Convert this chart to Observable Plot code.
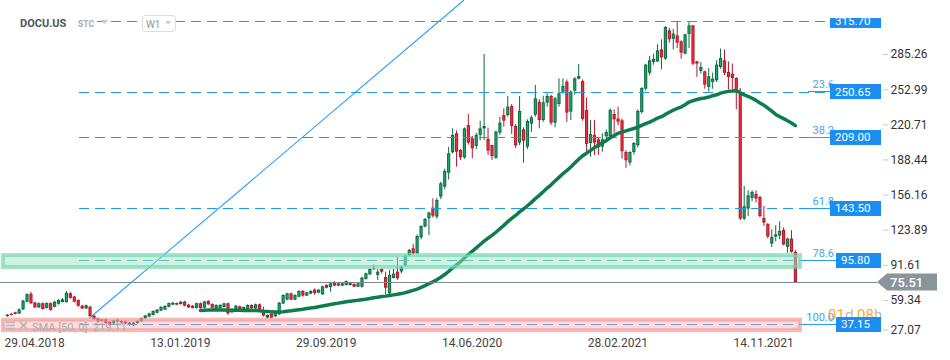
<!DOCTYPE html>
<html><head><meta charset="utf-8">
<script src="https://cdn.jsdelivr.net/npm/d3@7"></script>
<script src="https://cdn.jsdelivr.net/npm/@observablehq/plot@0.6"></script>
<style>
body{margin:0;background:#fff;font-family:Roboto,"Noto Sans",sans-serif;}
#chart{position:relative;width:950px;height:360px;overflow:hidden;background:#fff}
</style></head><body><div id="chart"></div>
<script>
// ---- data (weekly candles, DOCU.US, W1) ----
const firstWeek = "2018-05-04";
const open = [44.5,46.5,48.0,46.8,50.7,57.7,65.0,57.0,52.5,56.3, 52.0,56.3,53.0,55.8,57.5,57.4,65.5,62.5,59.3,54.0,
 51.5,53.0,45.0,42.5,40.0,41.5,39.0,38.0,39.5,40.0, 39.5,38.5,36.0,38.0,39.5,42.5,44.0,45.5,47.5,49.5,
 50.5,53.0,55.0,56.5,55.5,57.8,55.0,54.0,52.0,56.3, 52.2,58.4,55.6,51.6,51.8,52.8,56.2,48.0,51.0,53.5,
 51.0,51.0,54.7,51.6,55.3,48.0,43.0,46.7,44.3,46.1, 56.0,59.6,65.4,59.6,62.3,67.6,63.3,65.1,68.8,66.0,
 64.5,73.1,71.2,75.5,74.6,72.5,73.1,73.1,74.0,71.5, 71.5,78.6,82.9,88.4,82.3,87.8,80.4,65.4,79.5,85.3,
 85.5,91.0,100.5,106.8,102.2,116.9,126.7,134.4,144.2,135.9, 154.3,163.5,176.3,195.0,212.5,197.2,190.4,220.1,207.9,200.8,
 211.0,217.0,207.3,201.7,190.0,213.1,229.3,229.3,237.6,219.2, 203.9,216.1,200.2,221.4,229.6,241.6,224.7,240.7,246.8,222.3,
 239.4,250.8,259.9,232.4,251.7,262.7,260.6,233.9,203.6,211.0, 207.0,200.2,209.7,210.0,230.2,226.0,224.4,195.3,185.6,195.3,
 201.5,232.1,253.5,268.2,278.0,278.6,289.6,281.1,307.1,299.3, 302.5,297.0,285.7,303.8,311.7,278.6,269.8,269.5,255.1,259.7,
 261.2,273.4,279.6,268.8,267.3,263.3,249.6,134.1,143.3,153.1, 156.7,154.0,134.7,129.2,111.1,117.5,118.5,123.7,108.1,115.7,
 103.5];
const high = [46.5,47.5,48.5,51.5,59.5,65.4,66.9,57.5,57.0,57.0, 57.0,57.0,58.5,60.0,61.0,67.5,66.5,63.0,60.0,55.0,
 55.0,54.0,45.5,43.0,42.0,42.0,40.0,41.0,42.0,41.0, 40.5,39.0,39.0,40.5,43.0,45.5,47.5,49.8,51.0,53.5,
 54.5,57.0,57.5,57.0,58.5,58.5,55.5,54.5,56.8,57.0, 58.7,59.0,56.3,55.3,55.5,56.8,57.0,51.5,54.8,54.0,
 53.3,55.3,55.3,56.0,56.0,53.2,46.0,47.2,48.6,57.5, 64.5,66.0,66.0,64.5,68.2,68.5,67.0,68.2,70.0,69.4,
 72.4,73.7,75.2,76.7,75.2,75.2,77.3,76.1,74.6,75.2, 80.7,84.5,88.4,92.0,87.8,88.4,85.3,86.9,87.8,99.1,
 91.5,101.0,106.2,111.0,119.5,128.0,134.5,140.5,152.7,153.0, 168.0,180.0,200.0,217.0,215.0,198.0,218.0,230.2,210.0,213.0,
 224.0,285.4,217.7,202.0,215.0,227.8,235.5,246.8,239.4,221.0, 246.8,218.0,225.3,229.0,256.9,244.0,247.0,249.2,248.0,246.0,
 263.0,263.0,262.0,252.0,264.0,276.2,262.0,245.5,224.7,224.7, 209.0,212.5,216.0,235.5,234.5,237.0,226.0,197.0,196.0,204.5,
 234.6,255.0,276.5,283.5,285.7,294.3,298.9,311.1,309.3,308.6, 314.8,298.0,304.0,315.4,312.0,279.0,278.0,270.0,272.5,268.2,
 279.6,290.3,289.4,278.6,276.5,264.0,254.1,164.1,160.1,160.1, 160.1,155.0,145.7,130.0,124.3,128.0,131.6,126.0,116.5,123.4,
 105.0];
const low = [43.8,45.0,46.0,46.5,50.0,57.0,55.5,52.0,52.0,50.5, 51.5,49.5,52.5,55.0,57.0,57.0,60.5,57.0,53.0,51.0,
 51.0,44.0,41.0,38.5,39.0,37.5,35.5,37.0,38.5,37.5, 37.0,35.5,35.3,37.5,39.0,42.0,43.5,45.0,47.0,49.0,
 50.0,52.5,54.5,54.5,55.0,53.5,52.0,51.5,51.5,51.3, 51.5,54.8,51.5,51.0,51.3,52.2,45.5,47.2,50.5,50.5,
 50.5,50.5,51.0,51.0,50.5,44.0,42.5,42.5,43.5,45.5, 55.5,59.0,59.0,59.0,61.8,62.3,62.8,64.5,63.9,65.5,
 64.0,70.0,66.9,72.0,72.0,72.0,72.5,72.5,71.0,71.0, 70.6,78.0,82.3,87.0,77.7,83.5,64.5,64.5,79.2,77.7,
 83.8,90.0,99.5,101.0,101.5,115.0,126.0,119.0,135.0,134.0, 152.0,161.0,170.0,194.0,181.9,188.0,189.0,202.0,189.5,198.0,
 206.0,206.3,192.6,188.0,189.0,211.0,218.6,227.8,211.9,199.0, 201.7,185.5,198.0,213.7,227.8,217.0,223.0,237.0,220.1,218.0,
 237.0,249.0,223.0,224.7,248.0,262.0,224.0,194.1,191.0,192.6, 192.6,195.6,207.0,207.0,213.0,220.0,189.2,180.7,183.0,192.9,
 199.5,230.5,252.0,266.0,275.6,278.0,271.3,280.0,295.8,289.6, 290.9,281.1,285.0,290.9,275.0,264.3,267.3,253.5,250.8,253.5,
 259.7,271.9,265.8,252.9,252.9,234.6,132.6,132.6,136.5,150.0, 148.8,135.0,127.3,116.0,108.0,113.2,115.1,109.5,102.8,102.8,
 75.2];
const close = [45.8,45.5,46.5,50.7,58.7,64.7,56.3,52.5,56.3,51.0, 56.5,50.1,57.7,59.3,59.8,65.8,61.2,57.7,54.0,51.5,
 54.5,44.5,41.8,39.4,41.5,38.0,36.5,40.5,41.0,38.5, 38.0,36.3,38.5,40.0,42.5,45.0,47.0,49.2,50.5,53.0,
 53.8,56.5,56.8,55.0,57.7,54.0,52.5,52.0,56.3,51.8, 57.8,55.3,52.2,54.7,54.7,56.2,47.0,51.0,54.1,51.0,
 52.8,54.7,51.6,55.3,51.0,44.9,45.5,43.0,48.0,56.8, 63.9,65.4,59.6,63.9,67.6,63.3,66.3,67.6,65.7,68.8,
 71.8,70.6,74.6,72.5,72.5,74.6,76.7,75.5,71.5,74.6, 79.8,83.8,87.8,87.5,85.3,85.3,70.6,82.3,83.5,79.2,
 89.5,100.2,105.3,102.2,118.1,127.3,133.8,139.6,136.8,151.2, 166.5,177.9,194.1,211.0,195.6,190.4,217.0,203.9,198.7,211.0,
 217.0,219.2,196.6,191.6,214.0,222.3,224.1,237.0,219.2,201.4, 233.0,205.7,223.8,227.2,244.6,224.7,241.0,246.8,222.3,244.6,
 249.2,256.0,231.5,250.8,263.0,265.1,225.6,202.7,211.9,204.0, 199.6,207.0,213.7,234.0,225.3,223.2,196.0,187.7,195.3,203.6,
 233.0,254.1,275.6,279.6,281.0,288.7,282.3,310.2,298.9,304.1, 295.8,286.6,303.4,311.7,276.5,276.5,273.4,257.2,264.9,262.7,
 275.6,281.7,268.0,264.3,263.3,249.6,134.1,145.4,155.5,158.6, 152.5,136.5,130.4,117.5,117.2,119.6,122.8,110.2,115.7,103.5,
 75.51];

const xTickDates = ["2018-04-29","2019-01-13","2019-09-29","2020-06-14","2021-02-28","2021-11-14"];
const yTicks = [27.07,59.34,91.61,123.89,156.16,188.44,220.71,252.99,285.26];
const fibLevels = [315.70,250.65,209.00,143.50,95.80,37.15];
const fibPct = ["","23.6","38.2","61.8","78.6","100.0"];
const fibStart = "2018-09-09";
const lastPrice = 75.51;
const smaLength = 50;
const smaLegend = "SMA [50, 0]  219.11";
const zoneLo = [89.6, 31.5];
const zoneHi = [100.6, 41.2];
const zoneFrom = "2018-04-27", zoneTo = "2022-03-13";
const trendDates = ["2018-09-27","2020-07-22T10:00"];
const trendPrices = [43.2, 335.0];
const symbol = "DOCU.US", market = "STC", interval = "W1";
const countdown = [["01",true],["d ",false],["08",true],["h",false]];

// ---- build ----
const DAY = 864e5;
const t0 = Date.UTC(2018,3,29);
const pxPerDay = 729/1295;
const atPx = px => new Date(t0 + (px-4)/pxPerDay*DAY);   // layout helper for the time scale
const w0 = new Date(firstWeek).getTime();
const candles = open.map((o,i)=>({date:new Date(w0 + i*7*DAY), open:o, high:high[i], low:low[i], close:close[i]}));
const ups = candles.filter(d=>d.close>=d.open), dns = candles.filter(d=>d.close<d.open);
const bigBody = d => Math.abs(d.close-d.open) > 2.6;
const bodyTop = d => Math.max(d.open,d.close), bodyBot = d => Math.min(d.open,d.close);
const zones = zoneLo.map((lo,i)=>({lo, hi:zoneHi[i], x1:new Date(zoneFrom), x2:new Date(zoneTo)}));
const trend = trendDates.map((d,i)=>({date:new Date(d), price:trendPrices[i]}));

const GD="#0d6a42", GL="#22a36b", RD="#b3182b", RL="#e8303f";
const plot = Plot.plot({
  width:950, height:360, marginLeft:0, marginRight:148, marginTop:0, marginBottom:24,
  style:{fontFamily:"Roboto, sans-serif", fontSize:"12px", background:"transparent", overflow:"visible"},
  x:{type:"utc", domain:[atPx(0), atPx(802)], label:null},
  y:{domain:[26.18, 335.0], label:null},
  marks:[
    Plot.ruleX(ups,{x:"date",y1:"low",y2:"high",stroke:GD,strokeWidth:1}),
    Plot.ruleX(dns,{x:"date",y1:"low",y2:"high",stroke:RD,strokeWidth:1}),
    Plot.ruleX(ups,{x:"date",y1:bodyTop,y2:bodyBot,stroke:GD,strokeWidth:3.2}),
    Plot.ruleX(dns,{x:"date",y1:bodyTop,y2:bodyBot,stroke:RD,strokeWidth:3.2}),
    Plot.ruleX(ups.filter(bigBody),{x:"date",y1:bodyTop,y2:bodyBot,insetTop:1,insetBottom:1,stroke:GL,strokeWidth:1.3}),
    Plot.ruleX(dns.filter(bigBody),{x:"date",y1:bodyTop,y2:bodyBot,insetTop:1,insetBottom:1,stroke:RL,strokeWidth:1.3}),
    Plot.ruleY(fibLevels,{y:d=>d,x1:new Date(fibStart),x2:atPx(826),stroke:"#1e9be3",strokeWidth:1.1,
      strokeDasharray:"10,6",shapeRendering:"crispEdges"}),
    Plot.lineY(candles, Plot.windowY({k:smaLength, anchor:"end", strict:true, reduce:"mean"},
      {x:"date", y:"close", stroke:"#0f7c4b", strokeWidth:3.5})),
    Plot.line(trend,{x:"date",y:"price",stroke:"#2d9ff0",strokeWidth:1.1}),
    Plot.ruleY([lastPrice],{x1:atPx(0),x2:atPx(877),stroke:"#7d878f",strokeWidth:1.3,shapeRendering:"crispEdges"}),
    Plot.rect([zones[0]],{x1:"x1",x2:"x2",y1:"lo",y2:"hi",fill:"#9fe5c6",fillOpacity:0.5,stroke:"#6fd6aa",strokeOpacity:0.65,strokeWidth:4}),
    Plot.rect([zones[1]],{x1:"x1",x2:"x2",y1:"lo",y2:"hi",fill:"#f7a8a8",fillOpacity:0.4,stroke:"#f08c8c",strokeOpacity:0.6,strokeWidth:4}),
    Plot.axisX({ticks:xTickDates.map(d=>new Date(d)), tickFormat:d3.utcFormat("%d.%m.%Y"), textAnchor:"start",
      tickSize:0, tickPadding:2, fontSize:12, fill:"#444", label:null}),
    Plot.axisY({anchor:"right", ticks:yTicks.filter(t=>t>30), tickFormat:d=>d.toFixed(2), tickSize:5, tickPadding:3,
      dx:80, fontSize:12, fill:"#333", stroke:"#c8c8c8", label:null}),
    Plot.axisY({anchor:"right", ticks:yTicks.filter(t=>t<30), tickFormat:d=>d.toFixed(2), tickSize:5, tickPadding:3,
      dx:80, dy:-5.5, fontSize:12, fill:"#333", stroke:"#c8c8c8", label:null})
  ]
});
document.getElementById("chart").append(plot);

// ---- annotations positioned through the plot's y scale ----
const ys = v => plot.scale("y").apply(v);
const svg = d3.select(plot);
svg.append("defs").append("clipPath").attr("id","clipTop")
  .append("rect").attr("x",0).attr("y",18).attr("width",950).attr("height",342);
const ov = svg.append("g").attr("font-family","Roboto, sans-serif").attr("text-anchor","start");

fibLevels.forEach((v,k)=>{
  if(!fibPct[k]) return;
  const yy = ys(v);
  ov.append("line").attr("x1",808).attr("x2",840).attr("y1",yy).attr("y2",yy).attr("stroke","#2b9bea")
    .attr("shape-rendering","crispEdges");
  ov.append("text").attr("x",834).attr("y",yy-3.5).attr("text-anchor","end").attr("font-size",11)
    .attr("fill","#3ea5ee").text(fibPct[k]);
});

const cd = ov.append("text").attr("x",828).attr("y",320).attr("font-size",15).attr("opacity",0.9);
countdown.forEach(([s,o])=>cd.append("tspan").attr("fill",o?"#f7a21b":"#b5b5b5").text(s));

fibLevels.forEach((v,k)=>{
  const yy = ys(v);
  const g = ov.append("g");
  if(k===0) g.attr("clip-path","url(#clipTop)");
  const t = g.append("text").attr("y",yy).attr("dy","0.36em").attr("font-size",11.5).attr("fill","#fff").text(v.toFixed(2));
  const w = t.node().getComputedTextLength();
  const bx = Math.round(881 - w - 16);
  g.insert("rect","text").attr("x",bx).attr("y",Math.round(yy-7.5)).attr("width",881-bx).attr("height",15).attr("fill","#1b8ef2");
  t.attr("x",bx+5);
});

const yc = Math.round(ys(lastPrice));
ov.append("path").attr("d",`M877,${yc} L887,${yc-8.5} L937,${yc-8.5} L937,${yc+8.5} L887,${yc+8.5} Z`).attr("fill","#89949b");
ov.append("text").attr("x",890).attr("y",yc).attr("dy","0.36em").attr("font-size",13).attr("font-weight",500)
  .attr("fill","#fff").text(lastPrice.toFixed(2));

// header
ov.append("text").attr("x",20).attr("y",27).attr("font-size",11).attr("font-weight",700).attr("fill","#4a5761").text(symbol);
ov.append("rect").attr("x",75).attr("y",14).attr("width",22).attr("height",16).attr("fill","#fff");
ov.append("text").attr("x",78).attr("y",27).attr("font-size",8.5).attr("font-weight",700).attr("fill","#a3abb2").text(market);
ov.append("path").attr("d","M101,20 L108,20 L104.5,24 Z").attr("fill","#c3c9ce");
ov.append("rect").attr("x",142.5).attr("y",15.5).attr("width",33).attr("height",16).attr("rx",2.5)
  .attr("fill","#fff").attr("stroke","#dedede");
ov.append("text").attr("x",146).attr("y",27.5).attr("font-size",10).attr("fill","#8d979e").text(interval);
ov.append("path").attr("d","M165,21 L171,21 L168,24.5 Z").attr("fill","#c5cacd");

// indicator legend
const lg = ov.append("g").attr("stroke","#b9b9b9");
[322.5,325.5,328.5].forEach(yy=>lg.append("line").attr("x1",6).attr("x2",15).attr("y1",yy).attr("y2",yy).attr("stroke-width",1.5));
lg.append("line").attr("x1",20).attr("y1",322).attr("x2",27).attr("y2",329).attr("stroke-width",1.8);
lg.append("line").attr("x1",27).attr("y1",322).attr("x2",20).attr("y2",329).attr("stroke-width",1.8);
ov.append("text").attr("x",32).attr("y",331).attr("font-size",11).attr("fill","#aaaaaa").text(smaLegend);
</script></body></html>
